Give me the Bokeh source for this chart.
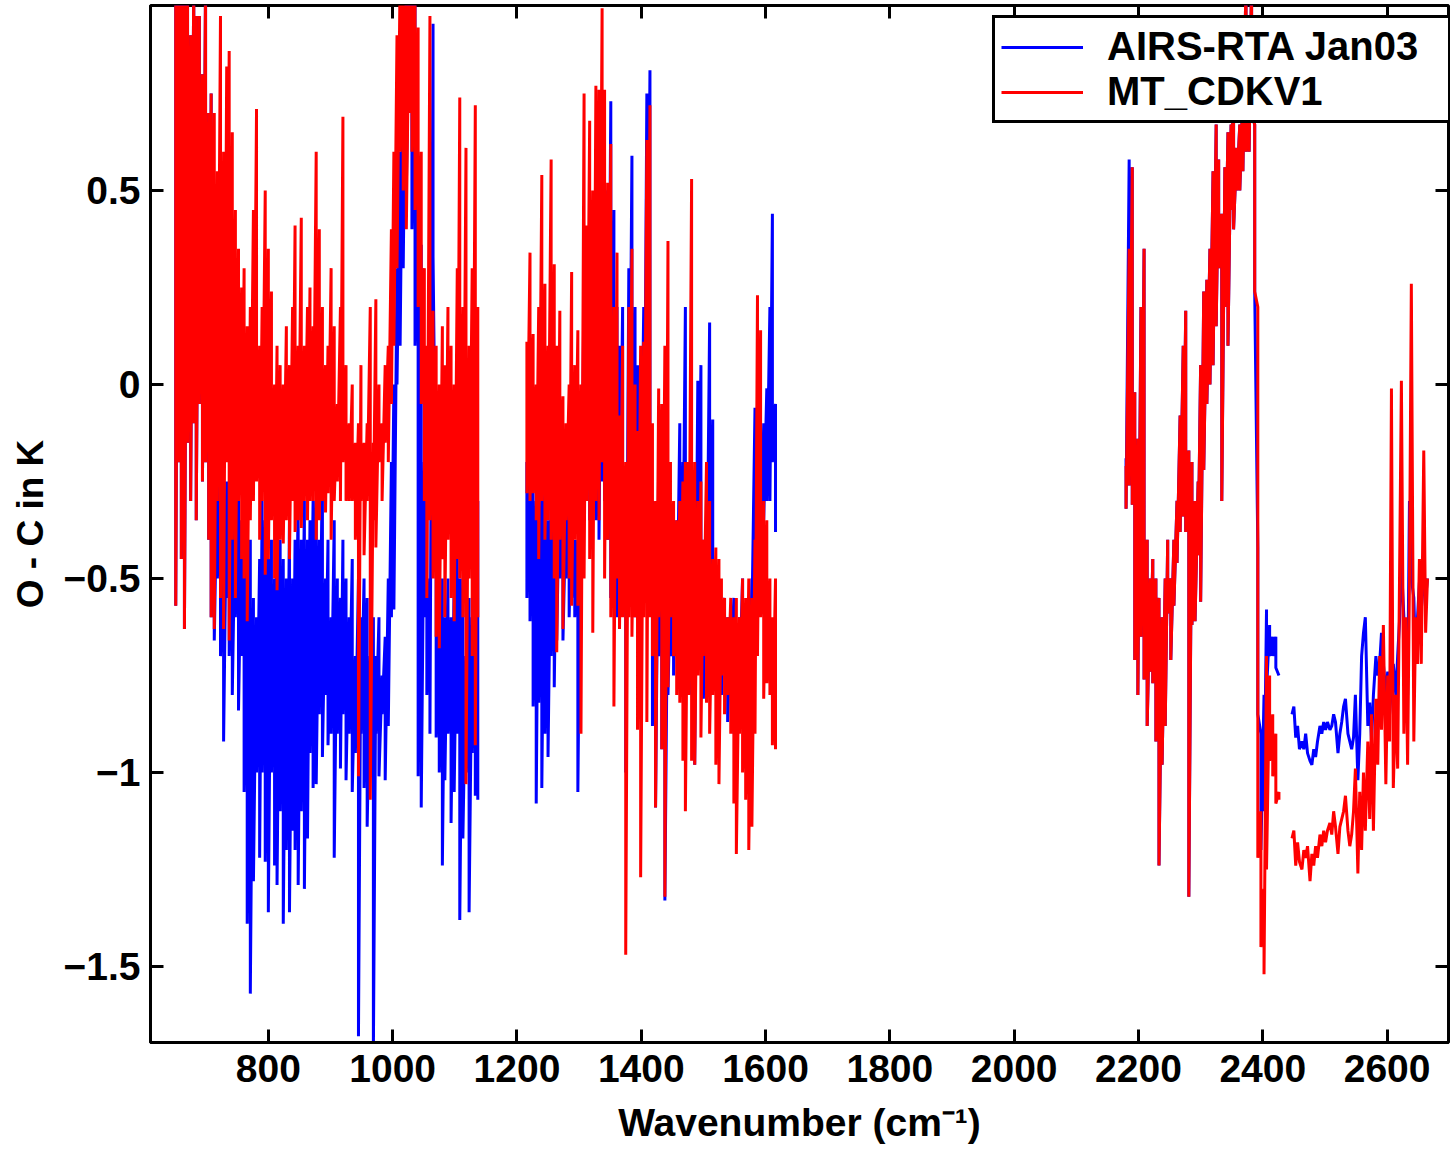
import numpy as np
from bokeh.plotting import figure
from bokeh.models import LinearAxis, FixedTicker, Legend, LegendItem, Range1d, CustomLabelingPolicy
from bokeh.embed import file_html
from bokeh.resources import INLINE

# ---------------- data (wavenumber in cm-1, O-C in K) ----------------
# Band A (650-1140 cm-1): per channel group, upper / lower extent of the spectrum
WN_A = [651, 655.5, 660, 665, 670, 675, 680, 684, 689, 694, 699, 704, 708, 713, 718, 723, 728, 733, 737, 742,
        747, 752, 757, 761, 766, 771, 776, 781, 786, 790, 795, 800, 805, 810, 814, 819, 824, 829, 834, 839,
        843, 848, 853, 858, 863, 867, 872, 877, 882, 887, 892, 896, 901, 906, 911, 916, 920, 925, 930, 935,
        940, 945, 949, 954, 959, 964, 969, 973, 978, 983, 988, 993, 998, 1002, 1007, 1012, 1017, 1022, 1027, 1031,
        1036, 1041, 1046, 1051, 1055, 1060, 1065, 1070, 1075, 1080, 1084, 1089, 1094, 1099, 1104, 1108, 1113, 1118, 1123, 1128,
        1133, 1137]
MT_HI_A = [1.05, 1.05, 1.05, 1.05, 1.05, 0.9, 1.05, 0.95, 0.95, 0.8,
           1.05, 0.7, 0.75, 0.7, 0.55, 0.95, 0.6, 0.82, 0.86, 0.65,
           0.45, 0.35, 0.25, 0.3, 0.15, 0.2, 0.45, 0.71, 0.1, 0.2,
           0.5, 0.35, 0.24, 0.0, 0.1, 0.05, 0.0, 0.15, 0.05, 0.2,
           0.41, 0.1, 0.43, 0.1, 0.2, 0.25, 0.15, 0.6, 0.4, 0.2,
           0.05, 0.1, 0.3, 0.15, -0.05, 0.2, 0.69, 0.05, -0.1, 0.0,
           -0.15, -0.1, 0.05, -0.15, -0.1, 0.2, -0.15, 0.22, 0.0, -0.1,
           0.05, 0.1, 0.4, 0.6, 0.9, 1.05, 1.05, 1.05, 1.05, 1.05,
           1.05, 0.92, 0.6, 0.3, 0.1, 0.95, 0.19, 0.1, 0.0, 0.15,
           0.05, 0.2, 0.1, 0.0, 0.3, 0.74, 0.2, 0.61, 0.1, 0.3,
           0.72, 0.2]
MT_LO_A = [-0.57, -0.2, -0.45, -0.63, -0.15, -0.3, -0.1, -0.35, -0.05, -0.25,
           -0.2, -0.4, -0.6, -0.63, -0.3, -0.55, -0.63, -0.2, -0.66, -0.4,
           -0.55, -0.3, -0.45, -0.5, -0.61, -0.35, -0.3, -0.25, -0.4, -0.3,
           -0.49, -0.45, -0.35, -0.5, -0.53, -0.4, -0.41, -0.35, -0.45, -0.3,
           -0.38, -0.35, -0.37, -0.3, -0.35, -0.3, -0.3, -0.4, -0.35, -0.3,
           -0.33, -0.28, -0.40, -0.3, -0.25, -0.3, -0.2, -0.3, -0.3, -0.3,
           -0.4, -1.01, -0.3, -0.44, -0.3, -1.07, -0.35, -0.42, -0.2, -0.3,
           -0.15, -0.2, -0.05, 0.1, 0.3, 0.6, 0.5, 0.4, 0.7, 0.6,
           0.45, 0.2, -0.05, -0.3, -0.55, -0.35, -0.5, -0.65, -0.68, -0.45,
           -0.6, -0.4, -0.55, -0.61, -0.45, -0.5, -0.6, -1.03, -0.5, -0.7,
           -0.93, -0.6]
AIRS_HI_A = [1.05, 1.05, 1.05, 1.05, 1.05, 0.9, 1.05, 0.95, 0.95, 0.8,
             1.05, 0.7, 0.75, 0.4, -0.2, -0.25, -0.3, -0.25, -0.35, -0.2,
             -0.3, -0.25, -0.35, -0.3, -0.45, -0.4, -0.55, -0.6, -0.45, -0.3,
             -0.35, -0.45, -0.4, -0.5, -0.3, -0.4, -0.45, -0.5, -0.35, -0.5,
             -0.4, -0.25, -0.4, -0.3, -0.4, -0.35, -0.3, -0.3, -0.4, -0.2,
             -0.5, -0.4, -0.6, -0.35, -0.5, -0.55, -0.4, -0.5, -0.6, -0.45,
             -0.7, -0.5, -0.6, -0.5, -0.55, -0.7, -0.6, -0.7, -0.6, -0.75,
             -0.65, -0.5, -0.2, 0.0, 0.3, 0.6, 0.9, 1.05, 1.05, 1.05,
             1.05, 0.5, 0.36, -0.2, -0.3, -0.5, 0.93, -0.4, -0.6, -0.5,
             -0.6, -0.5, -0.6, -0.5, -0.45, -0.5, -0.5, -0.7, -0.55, -0.6,
             -0.45, -0.3]
AIRS_LO_A = [-0.57, -0.2, -0.45, -0.63, -0.15, -0.3, -0.1, -0.35, -0.05, -0.25,
             -0.2, -0.4, -0.6, -0.66, -0.5, -0.70, -0.92, -0.55, -0.7, -0.80,
             -0.6, -0.84, -0.7, -1.05, -1.39, -1.57, -1.28, -1.0, -1.22, -1.0,
             -1.23, -1.36, -1.0, -1.24, -1.29, -1.1, -1.39, -1.2, -1.36, -1.15,
             -1.2, -1.29, -1.1, -1.30, -1.17, -0.95, -1.04, -1.03, -0.85, -0.96,
             -0.8, -0.93, -0.9, -1.22, -0.9, -0.99, -0.85, -1.02, -0.9, -1.05,
             -0.95, -1.68, -0.9, -1.04, -1.14, -0.95, -1.72, -0.9, -1.01, -0.85,
             -1.02, -0.88, -0.6, -0.58, 0.0, 0.1, 0.3, 0.5, 0.7, 0.4,
             0.1, -1.01, -1.09, -0.6, -0.8, -0.9, 0.33, -0.91, -1.0, -1.24,
             -1.02, -0.9, -1.13, -1.05, -0.9, -1.38, -1.17, -1.0, -1.36, -0.95,
             -1.06, -1.07]

# Band B (1215-1615 cm-1)
WN_B = [1216, 1221, 1226, 1231, 1235, 1240, 1245, 1250, 1255, 1260,
        1264, 1269, 1274, 1279, 1284, 1288, 1293, 1298, 1303, 1308,
        1312, 1317, 1322, 1327, 1332, 1337, 1341, 1346, 1351, 1356,
        1361, 1365, 1370, 1375, 1380, 1385, 1390, 1394, 1399, 1404,
        1409, 1414, 1418, 1423, 1428, 1433, 1438, 1443, 1447, 1452,
        1457, 1462, 1467, 1471, 1476, 1481, 1486, 1491, 1496, 1500,
        1505, 1510, 1515, 1520, 1525, 1529, 1534, 1539, 1544, 1549,
        1553, 1558, 1563, 1568, 1573, 1578, 1583, 1587, 1592, 1597,
        1602, 1607, 1611, 1616]
MT_HI_B = [0.11, 0.34, 0.13, 0.0, 0.2, 0.54, 0.26, 0.1, 0.58, 0.31,
           0.1, 0.19, -0.03, -0.1, 0.0, 0.29, 0.05, 0.14, 0.0, 0.75,
           0.41, 0.68, 0.50, 0.77, 0.76, 0.97, 0.76, 0.52, 0.62, 0.2,
           0.34, -0.08, 0.1, -0.2, 0.2, 0.35, 0.0, -0.12, 0.1, 0.11,
           0.63, 0.72, -0.1, -0.3, -0.01, -0.05, 0.1, 0.37, -0.2, -0.3,
           -0.35, -0.3, -0.25, -0.2, -0.2, 0.53, -0.2, -0.3, -0.25, -0.4,
           -0.2, -0.3, -0.45, -0.42, -0.45, -0.5, -0.55, -0.6, -0.55, -0.6,
           -0.55, -0.6, -0.5, -0.55, -0.5, -0.55, -0.4, 0.23, 0.14, -0.3,
           -0.35, -0.5, -0.6, -0.5]
MT_LO_B = [-0.28, -0.3, -0.28, -0.35, -0.45, -0.3, -0.4, -0.35, -0.4, -0.5,
           -0.69, -0.4, -0.63, -0.35, -0.5, -0.57, -0.4, -0.57, -0.90, -0.5,
           -0.3, -0.45, -0.64, -0.3, -0.35, -0.2, -0.5, -0.4, -0.6, -0.83,
           -0.5, -0.63, -0.6, -1.47, -0.6, -0.65, -0.6, -0.89, -1.27, -0.6,
           -0.87, -0.6, -0.70, -1.09, -0.6, -0.94, -1.32, -0.78, -0.6, -0.7,
           -0.8, -0.82, -0.97, -1.10, -0.8, -0.97, -0.98, -0.75, -0.91, -0.7,
           -0.82, -0.9, -0.8, -0.98, -1.03, -0.75, -0.85, -0.8, -0.9, -1.08,
           -1.21, -0.9, -1.0, -1.07, -1.20, -1.14, -0.9, -0.7, -0.6, -0.81,
           -0.77, -0.8, -0.93, -0.94]
AIRS_HI_B = [-0.2, 0.0, -0.1, -0.3, -0.25, -0.3, -0.2, -0.35, -0.3, -0.2,
             -0.3, -0.2, -0.15, -0.3, -0.2, -0.3, -0.4, -0.4, -0.2, 0.3,
             0.4, 0.0, 0.3, 0.2, 0.1, 0.5, 0.3, 0.5, 0.73, 0.45,
             0.2, 0.1, 0.2, -0.3, 0.3, 0.59, 0.2, 0.05, 0.0, 0.2,
             0.75, 0.81, -0.3, -0.4, -0.2, -0.35, -0.45, -0.4, -0.5, -0.45,
             -0.35, -0.10, -0.2, 0.20, -0.25, -0.3, -0.45, 0.01, 0.05, -0.4,
             -0.45, 0.16, -0.09, -0.5, -0.55, -0.6, -0.55, -0.6, -0.6, -0.55,
             -0.65, -0.6, -0.5, -0.6, -0.6, -0.5, -0.06, -0.2, -0.3, -0.1,
             -0.01, 0.20, 0.44, -0.05]
AIRS_LO_B = [-0.55, -0.61, -0.83, -1.08, -0.82, -1.04, -0.9, -0.96, -0.7, -0.78,
             -0.66, -0.5, -0.66, -0.5, -0.60, -0.55, -0.6, -1.05, -0.63, -0.3,
             -0.2, -0.35, -0.2, -0.35, -0.4, -0.25, -0.3, -0.4, -0.55, -0.45,
             -0.6, -0.5, -0.5, -1.0, -0.5, -0.4, -0.6, -0.5, -0.41, -0.55,
             -0.3, -0.4, -0.88, -1.09, -0.7, -0.94, -1.33, -0.8, -0.7, -0.75,
             -0.7, -0.6, -0.51, -0.75, -0.6, -0.8, -0.98, -0.6, -0.7, -0.81,
             -0.65, -0.6, -0.55, -0.7, -0.65, -0.8, -0.7, -0.87, -0.75, -0.9,
             -1.01, -0.8, -0.83, -0.99, -0.95, -0.61, -0.55, -0.6, -0.51, -0.35,
             -0.3, -0.3, -0.2, -0.38]

# Band C (2180-2425 cm-1)
WN_C = [2180, 2185, 2190, 2194, 2199, 2204, 2209, 2214, 2219, 2223,
        2228, 2233, 2238, 2243, 2247, 2252, 2257, 2262, 2267, 2272,
        2276, 2281, 2286, 2291, 2296, 2300, 2305, 2310, 2315, 2320,
        2325, 2329, 2334, 2339, 2344, 2349, 2353, 2358, 2363, 2368,
        2373, 2378, 2382, 2387, 2392, 2397, 2402, 2406, 2411, 2416,
        2421, 2426]
MT_HI_C = [-0.21, 0.35, 0.56, -0.02, -0.14, 0.20, 0.35, -0.4, -0.5, -0.45,
           -0.5, -0.55, -0.6, -0.5, -0.4, -0.5, -0.4, -0.3, -0.08, 0.10,
           0.19, -0.17, -0.2, -0.3, -0.25, 0.05, 0.24, 0.27, 0.35, 0.55,
           0.67, 0.58, 0.44, 0.56, 0.65, 0.67, 0.8, 0.61, 0.67, 0.75,
           1.05, 0.85, 1.05, 0.67, 0.2, -1.1, -1.3, -0.7, -0.75, -0.85,
           -0.9, -1.05]
MT_LO_C = [-0.32, -0.26, -0.31, -0.71, -0.80, -0.65, -0.76, -0.88, -0.74, -0.77,
           -0.92, -1.24, -0.98, -0.88, -0.59, -0.71, -0.57, -0.46, -0.38, -0.34,
           -0.38, -1.32, -0.62, -0.61, -0.44, -0.56, -0.22, -0.05, 0.0, 0.05,
           0.15, 0.3, -0.30, 0.2, 0.1, 0.45, 0.4, 0.5, 0.5, 0.55,
           0.6, 0.6, 0.7, 0.24, -1.22, -1.45, -1.52, -1.25, -0.97, -1.01,
           -1.08, -1.07]
AIRS_HI_C = [-0.19, 0.58, 0.56, -0.02, -0.14, 0.20, 0.35, -0.4, -0.5, -0.45,
             -0.5, -0.55, -0.6, -0.5, -0.4, -0.5, -0.4, -0.3, -0.08, 0.10,
             0.19, -0.17, -0.2, -0.3, -0.25, 0.05, 0.24, 0.27, 0.35, 0.55,
             0.67, 0.58, 0.44, 0.56, 0.65, 0.67, 0.8, 0.61, 0.67, 0.75,
             1.05, 0.85, 1.05, 0.67, -0.42, -0.9, -0.8, -0.58, -0.62, -0.65,
             -0.65, -0.75]
AIRS_LO_C = [-0.32, -0.26, -0.31, -0.71, -0.80, -0.65, -0.76, -0.88, -0.74, -0.77,
             -0.92, -1.24, -0.98, -0.88, -0.59, -0.71, -0.57, -0.46, -0.38, -0.34,
             -0.38, -1.32, -0.62, -0.61, -0.44, -0.56, -0.22, -0.05, 0.0, 0.05,
             0.15, 0.3, -0.30, 0.2, 0.1, 0.45, 0.4, 0.5, 0.5, 0.55,
             0.6, 0.6, 0.7, 0.24, -0.85, -1.20, -1.1, -0.79, -0.70, -0.70,
             -0.73, -0.75]

# Band D (2447-2665 cm-1): single values
WN_D = [2447, 2450, 2453, 2456, 2459, 2463, 2466, 2469, 2472, 2476,
        2479, 2482, 2485, 2488, 2492, 2495, 2498, 2501, 2504, 2508,
        2511, 2514, 2517, 2521, 2524, 2527, 2530, 2533, 2537, 2540,
        2543, 2546, 2549, 2553, 2556, 2559, 2562, 2565, 2569, 2572,
        2575, 2578, 2582, 2585, 2588, 2591, 2594, 2598, 2601, 2604,
        2607, 2610, 2614, 2617, 2620, 2623, 2627, 2630, 2633, 2636,
        2639, 2643, 2646, 2649, 2652, 2655, 2659, 2662, 2665]
MT_D = [-1.17, -1.15, -1.24, -1.18, -1.23, -1.25, -1.20, -1.22, -1.19, -1.28,
        -1.21, -1.24, -1.19, -1.22, -1.16, -1.19, -1.15, -1.18, -1.15, -1.13,
        -1.16, -1.10, -1.14, -1.21, -1.14, -1.12, -1.10, -1.06, -1.15, -1.19,
        -1.16, -1.10, -0.99, -1.26, -1.05, -1.20, -1.0, -1.15, -0.92, -1.12,
        -0.85, -1.15, -0.81, -0.98, -0.7, -0.89, -0.62, -1.03, -0.75, -0.92,
        -0.01, -1.04, -0.8, -0.99, -0.5, 0.01, -0.90, -0.6, -0.98, -0.5,
        0.26, -0.92, -0.6, -0.72, -0.45, -0.72, -0.17, -0.64, -0.5]
AIRS_D = [-0.85, -0.83, -0.91, -0.88, -0.94, -0.92, -0.94, -0.90, -0.95, -0.97,
          -0.98, -0.94, -0.96, -0.92, -0.88, -0.90, -0.87, -0.89, -0.87, -0.89,
          -0.88, -0.85, -0.87, -0.95, -0.90, -0.87, -0.83, -0.81, -0.90, -0.92,
          -0.94, -0.91, -0.80, -1.02, -0.90, -0.70, -0.64, -0.60, -0.88, -0.82,
          -0.92, -0.80, -0.70, -0.75, -0.72, -0.64, -0.72, -0.80, -0.74, -0.85,
          -0.78, -0.72, -0.80, -0.70, -0.61, -0.46, -0.60, -0.70, -0.80, -0.30,
          -0.50, -0.55, -0.72, -0.60, -0.51, -0.58, -0.50, -0.55, -0.50]

X_TICKS = [800, 1000, 1200, 1400, 1600, 1800, 2000, 2200, 2400, 2600]
Y_TICKS = [-1.5, -1, -0.5, 0, 0.5]
Y_TICK_LABELS = ["\u22121.5", "\u22121", "\u22120.5", "0", "0.5"]
SERIES_NAMES = ["AIRS-RTA Jan03", "MT_CDKV1"]


# ---------------- helpers ----------------
def zigzag(wn, hi, lo):
    xs, ys = [], []
    for w, h, l in zip(wn, hi, lo):
        xs += [w, w]
        ys += [h, l]
    return xs, ys


def join(*segs):
    xs, ys = [], []
    for i, (sx, sy) in enumerate(segs):
        if i:
            xs.append(np.nan)
            ys.append(np.nan)
        xs += list(sx)
        ys += list(sy)
    return np.array(xs, dtype=float), np.array(ys, dtype=float)


airs_x, airs_y = join(zigzag(WN_A, AIRS_HI_A, AIRS_LO_A), zigzag(WN_B, AIRS_HI_B, AIRS_LO_B),
                      zigzag(WN_C, AIRS_HI_C, AIRS_LO_C), (WN_D, AIRS_D))
mt_x, mt_y = join(zigzag(WN_A, MT_HI_A, MT_LO_A), zigzag(WN_B, MT_HI_B, MT_LO_B),
                  zigzag(WN_C, MT_HI_C, MT_LO_C), (WN_D, MT_D))

FONT = "Liberation Sans"

p = figure(width=1453, height=1157,
           x_range=Range1d(610.4, 2698.8), y_range=Range1d(-1.696, 0.977),
           output_backend="svg", toolbar_location=None,
           min_border_left=150, min_border_right=3, min_border_top=5, min_border_bottom=115)
p.grid.visible = False
p.background_fill_color = "white"
p.border_fill_color = "white"
p.outline_line_color = "black"
p.outline_line_alpha = 1.0
p.outline_line_width = 3

r_airs = p.line(airs_x, airs_y, line_color="#0000FF", line_width=3, line_join="bevel")
r_mt = p.line(mt_x, mt_y, line_color="#FF0000", line_width=3, line_join="bevel")

# main axes
xa = p.xaxis[0]
xa.ticker = FixedTicker(ticks=X_TICKS)
ya = p.yaxis[0]
ya.ticker = FixedTicker(ticks=Y_TICKS)
ya.major_label_overrides = {t: lab for t, lab in zip(Y_TICKS, Y_TICK_LABELS)}
xa.axis_label = "Wavenumber (cm\u207b\u00b9)"
ya.axis_label = "O - C in K"
for ax in (xa, ya):
    ax.axis_line_width = 3
    ax.axis_line_color = "black"
    ax.major_tick_line_width = 3
    ax.major_tick_line_color = "black"
    ax.major_tick_in = 13
    ax.major_tick_out = 0
    ax.minor_tick_line_color = None
    ax.major_label_text_font = FONT
    ax.major_label_text_font_style = "bold"
    ax.major_label_text_font_size = "39px"
    ax.major_label_text_color = "black"
    ax.axis_label_text_font = FONT
    ax.axis_label_text_font_style = "bold"
    ax.axis_label_text_font_size = "39px"
    ax.axis_label_text_color = "black"
xa.major_label_standoff = 12
xa.axis_label_standoff = 16
ya.major_label_standoff = 10
ya.axis_label_standoff = 10
ya.axis_label_text_font_size = "37px"

# mirrored tick axes (top / right), ticks only
hide_all = CustomLabelingPolicy(code="""
for (const i of Array.from(indices)) indices.unset(i)
return indices
""")
top = LinearAxis(ticker=FixedTicker(ticks=X_TICKS))
right = LinearAxis(ticker=FixedTicker(ticks=Y_TICKS))
for ax in (top, right):
    ax.axis_line_color = None
    ax.major_tick_line_width = 3
    ax.major_tick_line_color = "black"
    ax.major_tick_in = 13
    ax.major_tick_out = 0
    ax.minor_tick_line_color = None
    ax.major_label_policy = hide_all
    ax.major_label_text_font_size = "1px"
    ax.major_label_standoff = 0
p.add_layout(top, "above")
p.add_layout(right, "right")

legend = Legend(items=[LegendItem(label=SERIES_NAMES[0], renderers=[r_airs]),
                       LegendItem(label=SERIES_NAMES[1], renderers=[r_mt])],
                location=(842, 919))
legend.margin = 0
legend.padding = 6
legend.spacing = 0
legend.glyph_width = 82
legend.glyph_height = 40
legend.label_height = 40
legend.label_width = 339
legend.label_standoff = 24
legend.label_text_font = FONT
legend.label_text_font_style = "bold"
legend.label_text_font_size = "40px"
legend.label_text_color = "black"
legend.border_line_color = "black"
legend.border_line_alpha = 1.0
legend.border_line_width = 3
legend.background_fill_color = "white"
legend.background_fill_alpha = 1.0
p.add_layout(legend)

open("out.html", "w").write(file_html(p, INLINE))
